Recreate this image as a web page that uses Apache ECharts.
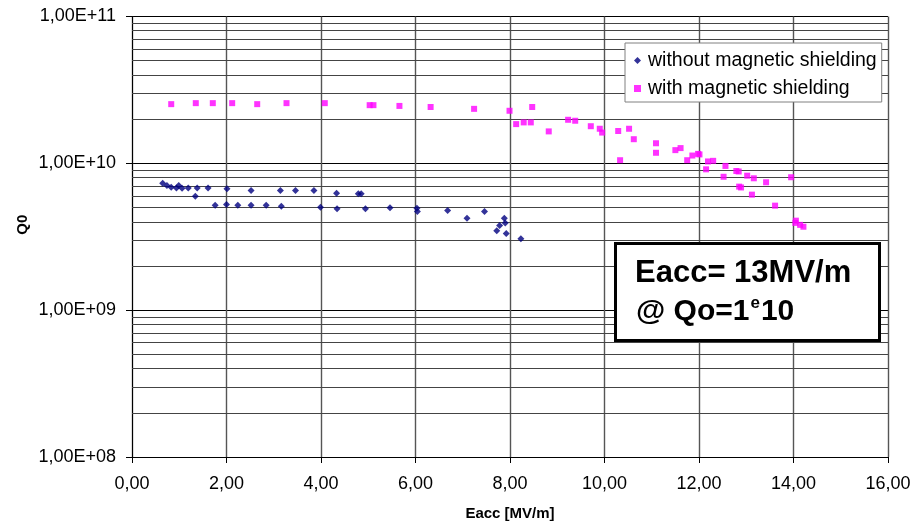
<!DOCTYPE html>
<html>
<head>
<meta charset="utf-8">
<script src="https://cdn.jsdelivr.net/npm/echarts@6/dist/echarts.min.js"></script>
<style>
  html, body { margin: 0; padding: 0; background: #fff; }
  #chart { width: 911px; height: 523px; }
</style>
</head>
<body>
<div id="chart"></div>
<script>
// Eacc [MV/m] vs Q0
const withoutX = [0.65, 0.74, 0.83, 0.94, 0.99, 1.06, 1.19, 1.34, 1.38, 1.61, 1.76, 2.00, 2.01, 2.24, 2.52, 2.52, 2.84, 3.14, 3.16, 3.46, 3.85, 3.99, 4.33, 4.34, 4.79, 4.85, 4.94, 5.46, 6.03, 6.04, 6.68, 7.09, 7.46, 7.72, 7.78, 7.88, 7.90, 7.92, 8.23]
const withoutQ = [7.31e9, 7.05e9, 6.87e9, 6.8e9, 7.05e9, 6.77e9, 6.8e9, 5.97e9, 6.8e9, 6.8e9, 5.19e9, 5.25e9, 6.7e9, 5.19e9, 6.52e9, 5.19e9, 5.19e9, 6.52e9, 5.11e9, 6.52e9, 6.52e9, 5.03e9, 6.26e9, 4.9e9, 6.2e9, 6.2e9, 4.9e9, 4.98e9, 4.95e9, 4.69e9, 4.77e9, 4.23e9, 4.69e9, 3.47e9, 3.77e9, 4.23e9, 3.92e9, 3.33e9, 3.06e9]

const withX = [0.83, 1.35, 1.71, 2.12, 2.65, 3.27, 4.08, 5.03, 5.11, 5.66, 6.32, 7.24, 7.99, 8.13, 8.29, 8.44, 8.47, 8.82, 9.23, 9.38, 9.71, 9.90, 9.95, 10.29, 10.33, 10.52, 10.62, 11.09, 11.09, 11.50, 11.61, 11.75, 11.86, 11.98, 12.01, 12.15, 12.19, 12.30, 12.52, 12.56, 12.79, 12.84, 12.85, 12.89, 13.02, 13.12, 13.16, 13.42, 13.61, 13.95, 14.04, 14.05, 14.14, 14.21]
const withQ = [2.53e10, 2.57e10, 2.57e10, 2.57e10, 2.53e10, 2.57e10, 2.57e10, 2.49e10, 2.49e10, 2.46e10, 2.42e10, 2.35e10, 2.28e10, 1.85e10, 1.9e10, 1.9e10, 2.42e10, 1.65e10, 1.98e10, 1.95e10, 1.79e10, 1.72e10, 1.62e10, 1.66e10, 1.05e10, 1.72e10, 1.46e10, 1.37e10, 1.18e10, 1.23e10, 1.27e10, 1.05e10, 1.13e10, 1.16e10, 1.15e10, 9.1e9, 1.03e10, 1.04e10, 8.1e9, 9.6e9, 8.87e9, 8.8e9, 6.94e9, 6.85e9, 8.24e9, 6.12e9, 7.91e9, 7.43e9, 5.15e9, 8.04e9, 3.93e9, 4.07e9, 3.81e9, 3.7e9]

const seriesNames = ['without magnetic shielding', 'with magnetic shielding']
const decades = [8, 9, 10]
const minorSteps = [2, 3, 4, 5, 6, 7, 8, 9]

const font = 'Liberation Sans, Arial, sans-serif'

function zip(xs, ys) {
    return xs.map(function (x, i) { return [x, ys[i]] })
}

// log minor gridlines (2..9 x each decade)
let minorLines = []
decades.forEach(function (e) {
    minorSteps.forEach(function (m) {
        minorLines.push({ yAxis: m * Math.pow(10, e) })
    })
})

const chart = echarts.init(document.getElementById('chart'), null, { renderer: 'canvas' })

const option = {
    animation: false,
    backgroundColor: '#fff',
    grid: {
        left: 132,
        right: 23,
        top: 16.5,
        bottom: 66,
        containLabel: false,
        outerBoundsMode: 'none'
    },
    legend: {
        orient: 'vertical',
        left: 625,
        top: 43,
        padding: [7, 5, 3, 9],
        itemWidth: 7,
        itemHeight: 7,
        itemGap: 7,
        backgroundColor: '#fff',
        borderColor: '#808080',
        borderWidth: 1,
        textStyle: {
            fontFamily: font,
            fontSize: 19.5,
            lineHeight: 21,
            padding: [0, 0, 0, 2],
            color: '#000'
        },
        data: [
            { name: seriesNames[0], icon: 'diamond' },
            { name: seriesNames[1], icon: 'rect' }
        ]
    },
    xAxis: {
        type: 'value',
        min: 0,
        max: 16,
        interval: 2,
        name: 'Eacc [MV/m]',
        nameLocation: 'middle',
        nameGap: 49,
        nameMoveOverlap: false,
        nameTextStyle: {
            fontFamily: font,
            fontSize: 15,
            fontWeight: 'bold',
            color: '#000'
        },
        axisLine: { lineStyle: { color: '#000', width: 1 } },
        axisTick: { show: true, length: 6, lineStyle: { color: '#000' } },
        axisLabel: {
            fontFamily: font,
            fontSize: 18,
            color: '#000',
            margin: 18,
            formatter: function (v) { return v.toFixed(2).replace('.', ',') }
        },
        splitLine: { show: true, lineStyle: { color: '#555', width: 1.4 } }
    },
    yAxis: {
        type: 'log',
        logBase: 10,
        min: 1e8,
        max: 1e11,
        name: 'Q0',
        nameLocation: 'middle',
        nameGap: 102,
        nameMoveOverlap: false,
        nameTextStyle: {
            fontFamily: font,
            fontSize: 15,
            fontWeight: 'bold',
            color: '#000',
            padding: [0, 0, 0, 24]
        },
        axisLine: { show: true, lineStyle: { color: '#000', width: 1 } },
        axisTick: { show: true, length: 6, lineStyle: { color: '#000' } },
        axisLabel: {
            fontFamily: font,
            fontSize: 18,
            color: '#000',
            margin: 16,
            formatter: function (v) {
                const e = Math.round(Math.log10(v))
                return '1,00E+' + (e < 10 ? '0' + e : e)
            }
        },
        splitLine: { show: true, lineStyle: { color: '#000', width: 1 } }
    },
    series: [
        {
            name: seriesNames[0],
            type: 'scatter',
            symbol: 'diamond',
            symbolSize: 7,
            itemStyle: { color: '#000080' },
            data: zip(withoutX, withoutQ),
            z: 3,
            markLine: {
                silent: true,
                symbol: 'none',
                label: { show: false },
                lineStyle: { color: '#444', width: 1, type: 'solid' },
                data: minorLines,
                z: 1
            }
        },
        {
            name: seriesNames[1],
            type: 'scatter',
            symbol: 'rect',
            symbolSize: 6,
            itemStyle: { color: '#ff00ff' },
            data: zip(withX, withQ),
            z: 3
        }
    ],
    graphic: [
        {
            type: 'rect',
            left: 614,
            top: 242,
            shape: { width: 264, height: 97 },
            style: { fill: '#fff', stroke: '#000', lineWidth: 3 },
            z: 10
        },
        {
            type: 'text',
            left: 635,
            top: 258,
            style: {
                text: 'Eacc= 13MV/m',
                fontFamily: font,
                fontSize: 31,
                fontWeight: 'bold',
                fill: '#000'
            },
            z: 11
        },
        {
            type: 'text',
            left: 636,
            top: 295,
            style: {
                text: '{n|@ Qo=1}{s|e}{n|10}',
                fill: '#000',
                rich: {
                    n: { fontFamily: font, fontSize: 30, fontWeight: 'bold', lineHeight: 34 },
                    s: { fontFamily: font, fontSize: 17, fontWeight: 'bold', verticalAlign: 'top', lineHeight: 14, padding: [0, 1, 0, 1] }
                }
            },
            z: 11
        }
    ]
}

chart.setOption(option)
</script>
</body>
</html>
